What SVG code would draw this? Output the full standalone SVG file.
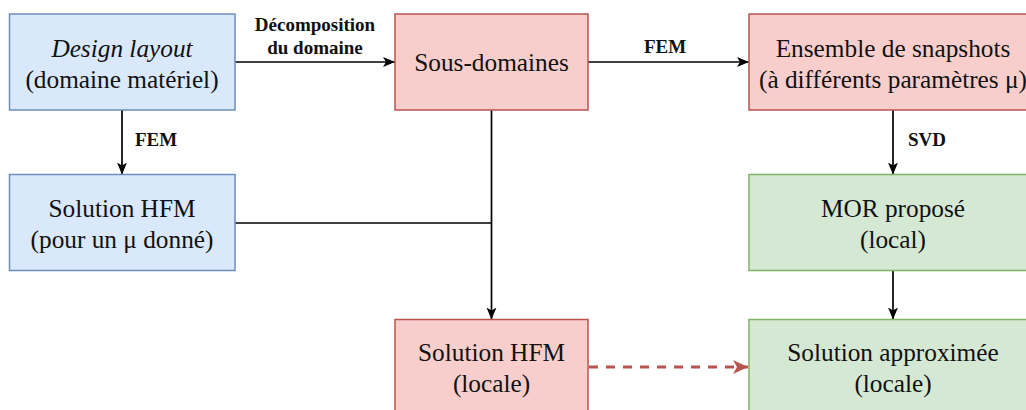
<svg xmlns="http://www.w3.org/2000/svg" width="1026" height="410" viewBox="0 0 1026 410">
<defs>
<style>
.blue{fill:#dae8fc;stroke:#6c8ebf;stroke-width:1.5}
.red{fill:#f8cecc;stroke:#b85450;stroke-width:1.5}
.green{fill:#d5e8d4;stroke:#82b366;stroke-width:1.5}
.t{font-size:25.3px;fill:#111;text-anchor:middle}
.lbl{font-size:19px;font-weight:bold;fill:#111}
.c{stroke:#000;stroke-width:1.7;fill:none}
.d{stroke:#b85450;stroke-width:3.2;fill:none;stroke-dasharray:9 8}
</style>
<marker id="ah" markerUnits="userSpaceOnUse" markerWidth="14" markerHeight="12" refX="12" refY="5" orient="auto">
<path d="M0,0 L12,5 L0,10 L3,5 Z" fill="#000"/>
</marker>
<marker id="ahr" markerUnits="userSpaceOnUse" markerWidth="16" markerHeight="16" refX="15" refY="7" orient="auto">
<path d="M0,0 L15,7 L0,14 L4,7 Z" fill="#b85450"/>
</marker>
</defs>
<rect width="1026" height="410" fill="#fff"/>
<g font-family="Liberation Serif, Times New Roman, serif">
<g id="connectors">
<line class="c" x1="235" y1="62" x2="395" y2="62" marker-end="url(#ah)"/>
<line class="c" x1="588" y1="62" x2="749" y2="62" marker-end="url(#ah)"/>
<line class="c" x1="122" y1="110" x2="122" y2="174.5" marker-end="url(#ah)"/>
<line class="c" x1="893" y1="110" x2="893" y2="174.5" marker-end="url(#ah)"/>
<line class="c" x1="893" y1="270" x2="893" y2="319.5" marker-end="url(#ah)"/>
<line class="c" x1="491.5" y1="110" x2="491.5" y2="319.5" marker-end="url(#ah)"/>
<line class="c" x1="235" y1="223" x2="491.5" y2="223"/>
<line class="d" x1="589" y1="367" x2="748" y2="367" marker-end="url(#ahr)"/>
<text class="lbl" x="315" y="31" text-anchor="middle">Décomposition</text>
<text class="lbl" x="315" y="54" text-anchor="middle">du domaine</text>
<text class="lbl" x="665" y="53" text-anchor="middle">FEM</text>
<text class="lbl" x="135" y="146">FEM</text>
<text class="lbl" x="908" y="146">SVD</text>
</g>
<g id="design-layout">
<rect class="blue" x="9.5" y="14" width="225.5" height="96"/>
<text class="t" x="122" y="57" font-style="italic">Design layout</text>
<text class="t" x="122" y="88">(domaine matériel)</text>
</g>
<g id="sous-domaines">
<rect class="red" x="395" y="14" width="193" height="96"/>
<text class="t" x="491.5" y="71">Sous-domaines</text>
</g>
<g id="snapshots">
<rect class="red" x="749" y="14" width="288" height="96"/>
<text class="t" x="893" y="57">Ensemble de snapshots</text>
<text class="t" x="893" y="88">(à différents paramètres μ)</text>
</g>
<g id="solution-hfm">
<rect class="blue" x="9.5" y="174.5" width="225.5" height="96"/>
<text class="t" x="122" y="217">Solution HFM</text>
<text class="t" x="122" y="248">(pour un μ donné)</text>
</g>
<g id="mor">
<rect class="green" x="749" y="174.5" width="288" height="96"/>
<text class="t" x="893" y="217">MOR proposé</text>
<text class="t" x="893" y="248">(local)</text>
</g>
<g id="solution-hfm-locale">
<rect class="red" x="395" y="319.5" width="193" height="96"/>
<text class="t" x="491.5" y="361">Solution HFM</text>
<text class="t" x="491.5" y="392">(locale)</text>
</g>
<g id="solution-approx">
<rect class="green" x="749" y="319.5" width="288" height="96"/>
<text class="t" x="893" y="361">Solution approximée</text>
<text class="t" x="893" y="392">(locale)</text>
</g>
</g>
</svg>
